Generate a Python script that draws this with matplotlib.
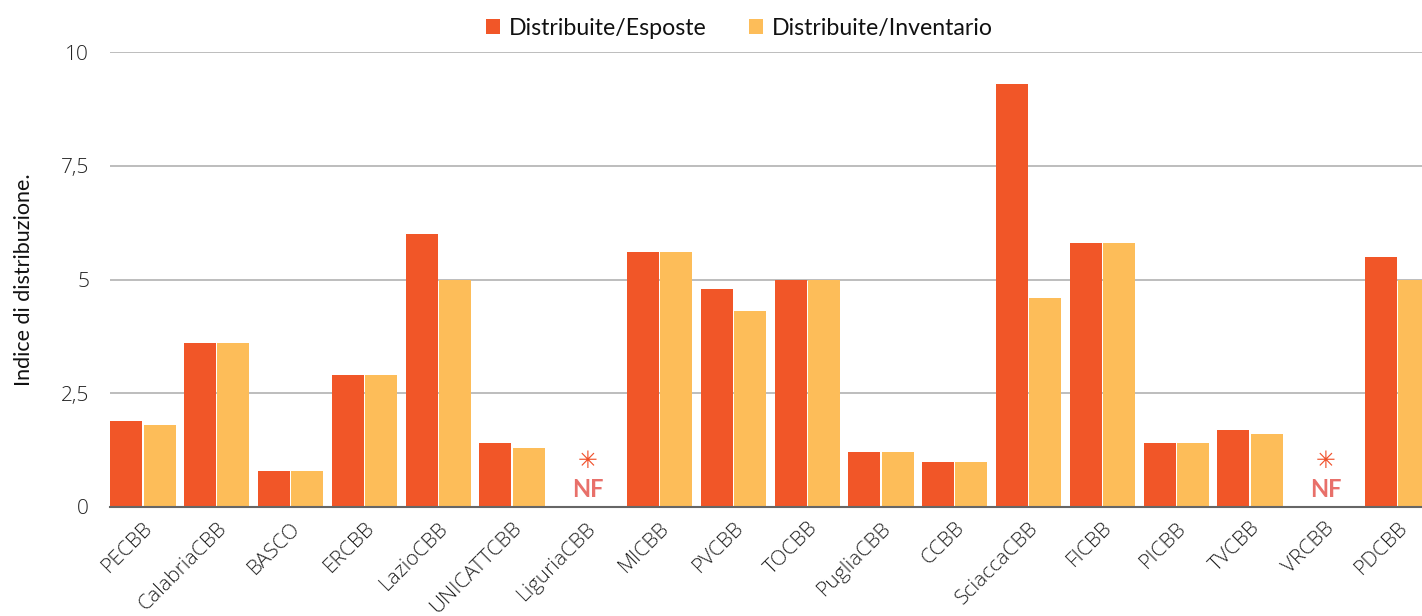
import numpy as np
import matplotlib
matplotlib.use("Agg")
import matplotlib.pyplot as plt

plt.rcParams['font.family'] = ['Lato', 'DejaVu Sans']

# dati
categorie = ['PECBB', 'CalabriaCBB', 'BASCO', 'ERCBB', 'LazioCBB', 'UNICATTCBB',
             'LiguriaCBB', 'MICBB', 'PVCBB', 'TOCBB', 'PugliaCBB', 'CCBB',
             'SciaccaCBB', 'FICBB', 'PICBB', 'TVCBB', 'VRCBB', 'PDCBB']
esposte = [1.9, 3.6, 0.8, 2.9, 6.0, 1.4, 0, 5.6, 4.8, 5.0, 1.2, 1.0, 9.3, 5.8, 1.4, 1.7, 0, 5.5]
inventario = [1.8, 3.6, 0.8, 2.9, 5.0, 1.3, 0, 5.6, 4.3, 5.0, 1.2, 1.0, 4.6, 5.8, 1.4, 1.6, 0, 5.0]
non_forniti = ['LiguriaCBB', 'VRCBB']
yticks = [0, 2.5, 5, 7.5, 10]
ytick_labels = ['0', '2,5', '5', '7,5', '10']

c_esposte = '#F15628'
c_inventario = '#FDBD59'

fig = plt.figure(figsize=(14.22, 6.16), dpi=100)
ax = fig.add_axes([110 / 1422, 109 / 616, 1 - 110 / 1422, 455 / 616])

x = np.arange(len(categorie))
w = 0.434
ax.bar(x - 0.225, esposte, width=w, color=c_esposte, label='Distribuite/Esposte', zorder=3)
ax.bar(x + 0.225, inventario, width=w, color=c_inventario, label='Distribuite/Inventario', zorder=3)

# annotazioni NF
for nome in non_forniti:
    i = categorie.index(nome)
    ax.text(i + 0.03, 1.0, '\u2733', ha='center', va='center', fontsize=17,
            family='DejaVu Sans', fontweight='bold', color='#F0502A')
    ax.text(i + 0.03, 0.38, 'NF', ha='center', va='center', fontsize=17, fontweight='bold',
            color='#E8706A')

ax.set_xlim(-0.447, 17.33)
ax.set_ylim(0, 10)
ax.set_yticks(yticks)
ax.set_yticklabels(ytick_labels)
ax.set_xticks(x)
ax.set_xticklabels(categorie, rotation=45, ha='right', rotation_mode='anchor')
for lab in ax.get_xticklabels() + ax.get_yticklabels():
    lab.set_family(['Open Sans', 'DejaVu Sans'])
    lab.set_fontweight('light')
ax.tick_params(axis='both', length=0, labelsize=15, labelcolor='#222222')
ax.tick_params(axis='y', pad=15)
ax.tick_params(axis='x', pad=8)

ax.grid(axis='y', color='#BDBDBD', linewidth=1.4, zorder=0)
for s in ['top', 'right', 'left']:
    ax.spines[s].set_visible(False)
ax.spines['bottom'].set_color('#666666')
ax.spines['bottom'].set_linewidth(1.5)
ax.spines['bottom'].set_zorder(4)

ax.set_ylabel('Indice di distribuzione.', fontsize=15.5, color='#111111')
ax.yaxis.set_label_coords(-0.058, 0.5)

leg = fig.legend(loc='upper center', bbox_to_anchor=(0.52, 1.005), ncol=2, frameon=False,
                 fontsize=16.7, handlelength=0.6, handleheight=0.6, handletextpad=0.4,
                 columnspacing=1.8)
for t in leg.get_texts():
    t.set_color('#111111')

fig.savefig('out.png', dpi=100)
